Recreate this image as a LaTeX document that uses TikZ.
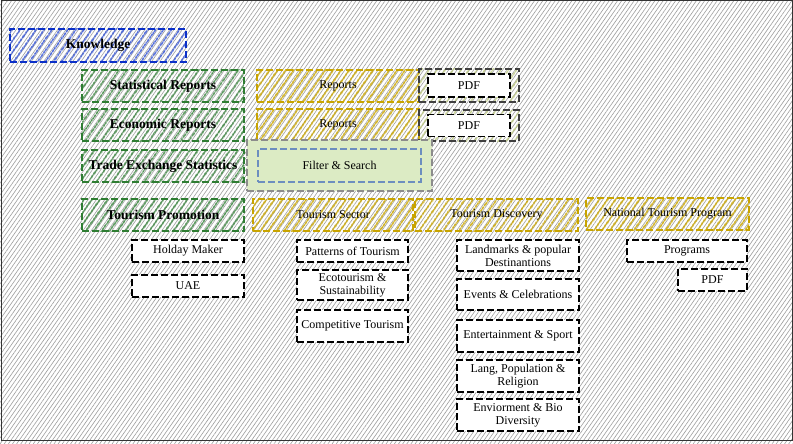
\documentclass[tikz,border=0pt]{standalone}
\usepackage{fontspec}
\setmainfont{Liberation Serif}
\usetikzlibrary{positioning}
\usetikzlibrary{patterns.meta}
\definecolor{knowblue}{HTML}{0A2FC8}
\definecolor{grassgreen}{HTML}{2E7D32}
\definecolor{mustard}{HTML}{C8A400}
\definecolor{slateblue}{HTML}{6C8EBF}
\definecolor{palegreen}{HTML}{DCEBC4}
\tikzset{node distance=8pt, % gap between stacked boxes
  every node/.style={align=center,
    font=\fontsize{12}{13}\selectfont},
  sketch/.style={ % rough dashed outline of every box
    rectangle, draw, line width=1.8pt, outer sep=0pt,
    dash pattern=on 7pt off 3pt, inner sep=1pt},
  hatched/.style={pattern={Lines[angle=55,distance=6.5pt,line width=1.8pt]},
    pattern color=#1},
  topicbox/.style={sketch, draw=knowblue, hatched=knowblue!75!white,
    font=\bfseries\fontsize{13.5}{14}\selectfont,
    minimum width=176pt, minimum height=33pt},
  sectionbox/.style={sketch, draw=grassgreen, hatched=grassgreen!85!white,
    font=\bfseries\fontsize{13.5}{14}\selectfont,
    minimum width=162pt, minimum height=32pt},
  pagebox/.style={sketch, draw=mustard, hatched=mustard!90!white,
    minimum width=162pt, minimum height=32pt},
  leafbox/.style={sketch, draw=black, fill=white, minimum height=22pt},
  framebox/.style={sketch, line width=1.4pt, draw=black!75}
}

\begin{document}
\begin{tikzpicture}[x=1pt, y=-1pt]
  \useasboundingbox (0,0) rectangle (793,444);
  % background
  \path[fill=white] (0,0) rectangle (793,444);
  \path[pattern={Lines[angle=55,distance=3.4pt,line width=0.6pt]},
    pattern color=black!38] (0,0) rectangle (793,444);
  \draw[black!80, line width=1pt] (1,1) rectangle (792,440);

  \node [topicbox, anchor=north west] (know) at (10,29) {Knowledge};

  % left column
  \node [sectionbox, anchor=north west] (statrep) at (82,70) {Statistical Reports};
  \node [sectionbox, anchor=north west] (econrep) at (82,109) {Economic Reports};
  \node [sectionbox, anchor=north west] (tradestat) at (82,150) {Trade Exchange Statistics};
  \node [sectionbox, anchor=north west] (tourprom) at (82,199) {Tourism Promotion};

  \node [leafbox, minimum width=112pt, anchor=north west] (holiday) at (132,240) {Holday Maker};
  \node [leafbox, minimum width=112pt, below=13pt of holiday] (uae) {UAE};

  % reports
  \node [pagebox, right=13pt of statrep] (rep1) {Reports};
  \node [pagebox, right=13pt of econrep] (rep2) {Reports};
  \node [framebox, hatched=palegreen!70!olive, minimum width=100pt, minimum height=33pt,
    anchor=north west] (pdfframe1) at (419,69) {};
  \node [leafbox, minimum width=82pt, minimum height=23pt] (pdf1) at (pdfframe1.center) {PDF};
  \node [framebox, hatched=palegreen!70!olive, minimum width=100pt, minimum height=31pt,
    anchor=north west] (pdfframe2) at (419,110) {};
  \node [leafbox, minimum width=82pt, minimum height=22pt] (pdf2) at (pdfframe2.center) {PDF};

  \node [framebox, line width=1.2pt, draw=black!45, fill=palegreen, minimum width=185pt,
    minimum height=51pt, anchor=north west] (filterframe) at (247,140) {};
  \node [sketch, draw=slateblue, fill=palegreen, minimum width=163pt, minimum height=33pt]
    (filter) at (filterframe.center) {Filter \& Search};

  % tourism
  \node [pagebox, minimum width=160pt, anchor=north west] (toursec) at (253,199) {Tourism Sector};
  \node [pagebox, minimum width=163pt, anchor=north west] (tourdisc) at (415,199) {Tourism Discovery};
  \node [pagebox, minimum width=163pt, anchor=north west] (natprog) at (586,198) {National Tourism Program};

  \node [leafbox, minimum width=111pt, anchor=north west] (patterns) at (297,240) {Patterns of Tourism};
  \node [leafbox, minimum width=111pt, minimum height=30pt, below=of patterns] (eco) {Ecotourism \&\\ Sustainability};
  \node [leafbox, minimum width=111pt, minimum height=32pt, below=10pt of eco] (compet) {Competitive Tourism};

  \node [leafbox, minimum width=122pt, minimum height=31pt, anchor=north west] (landmarks) at (457,240)
    {Landmarks \& popular\\ Destinantions};
  \node [leafbox, minimum width=122pt, minimum height=31pt, below=of landmarks] (events) {Events \& Celebrations};
  \node [leafbox, minimum width=122pt, minimum height=32pt, below=10pt of events] (entert) {Entertainment \& Sport};
  \node [leafbox, minimum width=122pt, minimum height=32pt, below=of entert] (lang) {Lang, Population \&\\ Religion};
  \node [leafbox, minimum width=122pt, minimum height=32pt, below=7pt of lang] (envir) {Enviorment \& Bio\\ Diversity};

  \node [leafbox, minimum width=120pt, anchor=north west] (programs) at (627,240) {Programs};
  \node [leafbox, minimum width=69pt, anchor=north west] (progpdf) at (678,269) {PDF};
\end{tikzpicture}
\end{document}
